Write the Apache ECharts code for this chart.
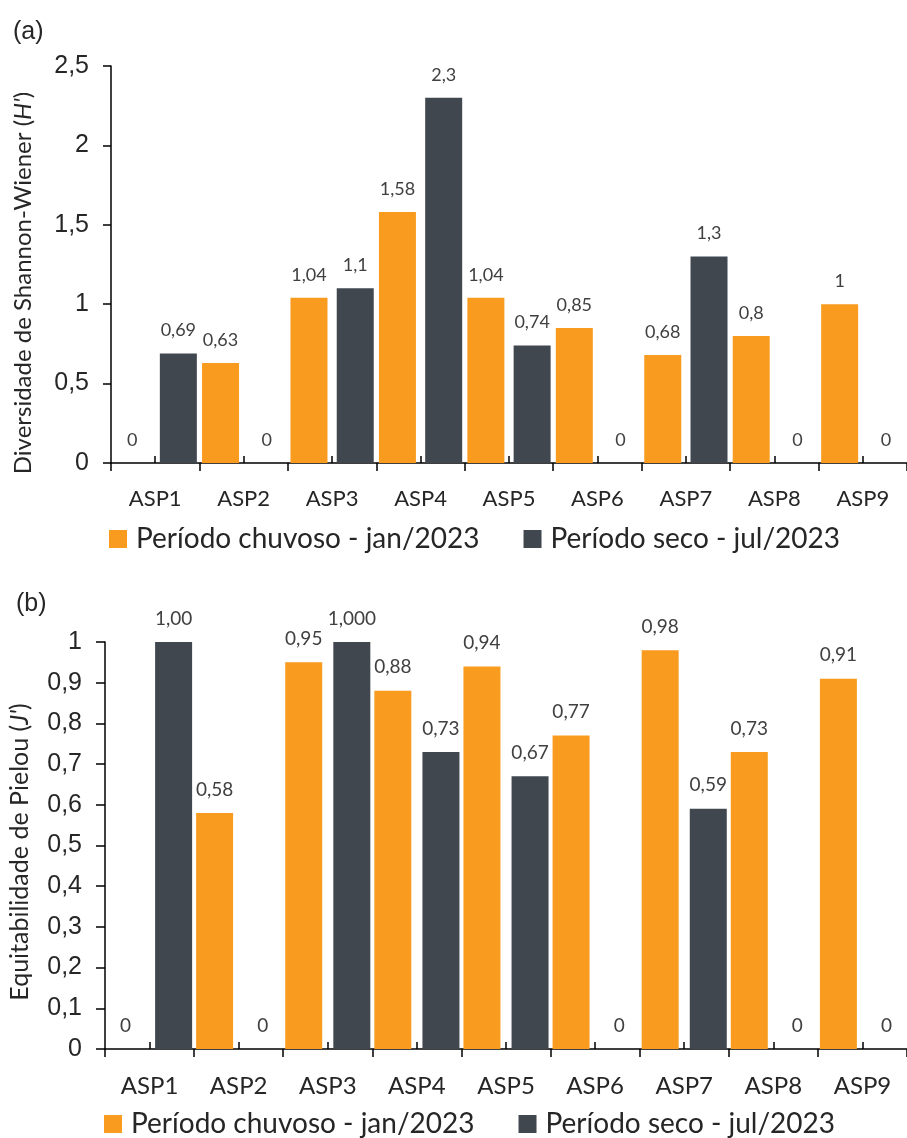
<!DOCTYPE html>
<html>
<head>
<meta charset="utf-8">
<script src="https://cdn.jsdelivr.net/npm/echarts@6/dist/echarts.min.js"></script>
<style>
  html, body { margin: 0; padding: 0; background: #fff; }
  #chart { width: 907px; height: 1138px; }
</style>
</head>
<body>
<div id="chart"></div>
<script>
// ---- Data ----
const categories = ['ASP1', 'ASP2', 'ASP3', 'ASP4', 'ASP5', 'ASP6', 'ASP7', 'ASP8', 'ASP9'];
const seriesNames = ['Período chuvoso - jan/2023', 'Período seco - jul/2023'];

// (a) Shannon-Wiener diversity (H')
const shannonChuvoso = [0, 0.63, 1.04, 1.58, 1.04, 0.85, 0.68, 0.8, 1];
const shannonSeco    = [0.69, 0, 1.1, 2.3, 0.74, 0, 1.3, 0, 0];

// (b) Pielou evenness (J')
const pielouChuvoso = [0, 0.58, 0.95, 0.88, 0.94, 0.77, 0.98, 0.73, 0.91];
const pielouSeco    = [1.00, 0, 1.000, 0.73, 0.67, 0, 0.59, 0, 0];
const pielouChuvosoLabels = ['0', '0,58', '0,95', '0,88', '0,94', '0,77', '0,98', '0,73', '0,91'];
const pielouSecoLabels    = ['1,00', '0', '1,000', '0,73', '0,67', '0', '0,59', '0', '0'];

// ---- Styles ----
const ORANGE = '#F89B1F';
const DARK = '#40474F';
const CAL = 'Lato, "Open Sans", sans-serif';
const ARIAL = '"Liberation Sans", Arial, sans-serif';
const comma = v => String(v).replace('.', ',');

const chart = echarts.init(document.getElementById('chart'), null, { renderer: 'canvas' });

function xAxes(gridIndex, fontSize) {
  return [
    {
      type: 'category', gridIndex, data: categories, position: 'bottom',
      axisLine: { show: true, lineStyle: { color: '#000', width: 1.5 } },
      axisTick: { show: true, length: 8, inside: false, lineStyle: { color: '#000', width: 1.5 } },
      axisLabel: { fontFamily: CAL, fontSize, color: '#262626', margin: 25 }
    },
    {
      type: 'category', gridIndex, data: categories, position: 'bottom',
      axisLine: { show: true, lineStyle: { color: 'rgba(0,0,0,0)', width: 0 } },
      axisTick: { show: true, alignWithLabel: true, inside: true, length: 7, lineStyle: { color: '#000', width: 1.5 } },
      axisLabel: { show: false }
    }
  ];
}

function barSeries(name, xAxisIndex, yAxisIndex, data, color, fontSize, labels) {
  return {
    type: 'bar', name, xAxisIndex, yAxisIndex,
    data: data,
    barWidth: 37,
    barGap: xAxisIndex === 0 ? '25%' : '30%',
    itemStyle: { color },
    label: {
      show: true, position: 'top', distance: 14,
      fontFamily: CAL, fontSize, color: '#404040',
      formatter: p => labels ? labels[p.dataIndex] : comma(p.value)
    }
  };
}

const legendCommon = {
  data: seriesNames,
  icon: 'rect', itemWidth: 18, itemHeight: 18, itemGap: 44,
  textStyle: { fontFamily: CAL, fontSize: 28, color: '#262626', padding: [0, 0, 0, 4] }
};

const option = {
  backgroundColor: '#fff',
  animation: false,
  grid: [
    { left: 111, top: 66, width: 798, height: 397 },
    { left: 105, top: 642, width: 810, height: 407 }
  ],
  xAxis: [...xAxes(0, 22), ...xAxes(1, 24)],
  yAxis: [
    {
      type: 'value', gridIndex: 0, min: 0, max: 2.5, interval: 0.5,
      axisLine: { show: true, lineStyle: { color: '#000', width: 1.5 } },
      axisTick: { show: true, length: 8, lineStyle: { color: '#000', width: 1.5 } },
      splitLine: { show: false },
      axisLabel: { fontFamily: ARIAL, fontSize: 25, color: '#262626', margin: 22, formatter: comma }
    },
    {
      type: 'value', gridIndex: 1, min: 0, max: 1, interval: 0.1,
      axisLine: { show: true, lineStyle: { color: '#000', width: 1.5 } },
      axisTick: { show: true, length: 9, lineStyle: { color: '#000', width: 1.5 } },
      splitLine: { show: false },
      axisLabel: { fontFamily: ARIAL, fontSize: 25, color: '#262626', margin: 23, formatter: comma }
    }
  ],
  legend: [
    Object.assign({ left: 104, top: 520 }, legendCommon),
    Object.assign({ left: 99, top: 1105 }, legendCommon)
  ],
  series: [
    barSeries(seriesNames[0], 0, 0, shannonChuvoso, ORANGE, 18, null),
    barSeries(seriesNames[1], 0, 0, shannonSeco, DARK, 18, null),
    barSeries(seriesNames[0], 2, 1, pielouChuvoso, ORANGE, 19, pielouChuvosoLabels),
    barSeries(seriesNames[1], 2, 1, pielouSeco, DARK, 19, pielouSecoLabels)
  ],
  graphic: [
    {
      type: 'text', x: 13, y: 32,
      style: { text: '(a)', font: '25px ' + ARIAL, fill: '#262626', textVerticalAlign: 'middle', verticalAlign: 'middle' }
    },
    {
      type: 'text', x: 16, y: 604,
      style: { text: '(b)', font: '25px ' + ARIAL, fill: '#262626', textVerticalAlign: 'middle', verticalAlign: 'middle' }
    },
    {
      type: 'text', x: 23, y: 283, rotation: Math.PI / 2,
      style: {
        text: '{n|Diversidade de Shannon-Wiener (}{i|H\'}{n|)}',
        textAlign: 'center', align: 'center', textVerticalAlign: 'middle', verticalAlign: 'middle',
        rich: {
          n: { fontFamily: CAL, fontSize: 24, fill: '#262626', color: '#262626' },
          i: { fontFamily: CAL, fontSize: 24, fontStyle: 'italic', fill: '#262626', color: '#262626' }
        }
      }
    },
    {
      type: 'text', x: 20, y: 852, rotation: Math.PI / 2,
      style: {
        text: '{n|Equitabilidade de Pielou (}{i|J\'}{n|)}',
        textAlign: 'center', align: 'center', textVerticalAlign: 'middle', verticalAlign: 'middle',
        rich: {
          n: { fontFamily: CAL, fontSize: 25, fill: '#262626', color: '#262626' },
          i: { fontFamily: CAL, fontSize: 25, fontStyle: 'italic', fill: '#262626', color: '#262626' }
        }
      }
    }
  ]
};

chart.setOption(option);
</script>
</body>
</html>
